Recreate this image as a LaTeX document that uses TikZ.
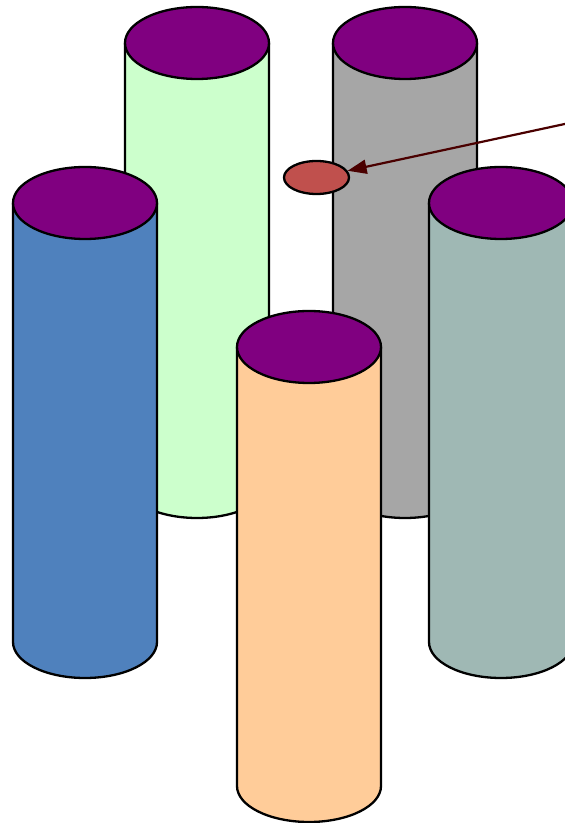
\documentclass[tikz,border=0pt]{standalone}
\usetikzlibrary{arrows.meta,shapes.geometric}
\definecolor{cpurple}{HTML}{800080}
\definecolor{cgreen}{HTML}{CCFFCC}
\definecolor{cgray}{HTML}{A6A6A6}
\definecolor{cblue}{HTML}{4F81BD}
\definecolor{cteal}{HTML}{9FB8B4}
\definecolor{corange}{HTML}{FFCC99}
\definecolor{cdot}{HTML}{C0504D}
\definecolor{carrow}{HTML}{4A0000}
\tikzset{
  outline/.style={draw=black,line width=2.3pt,line join=round},
  pics/cyl/.style={code={
    \path[outline,fill=#1] (-72pt,0pt) -- (-72pt,-439pt)
      arc[start angle=180,end angle=360,x radius=72pt,y radius=36pt]
      -- (72pt,0pt) -- cycle;
    \path[outline,fill=cpurple] (0,0) ellipse[x radius=72pt,y radius=36pt];
  }},
  dotnode/.style={ellipse,outline,fill=cdot,minimum width=65pt,minimum height=33pt,inner sep=0pt},
  pointer/.style={draw=carrow,line width=2.2pt,-{Triangle[length=19pt,width=14pt]}}
}
\begin{document}
\begin{tikzpicture}[x=1pt,y=1pt]
\useasboundingbox (0,0) rectangle (565,823);
\clip (0,0) rectangle (565,823);
\pic (green) at (197,780) {cyl=cgreen};
\pic (gray) at (405,780) {cyl=cgray};
\pic (blue) at (85,620) {cyl=cblue};
\pic (teal) at (501,620) {cyl=cteal};
\pic (orange) at (309,476) {cyl=corange};
\node[dotnode] (dot) at (316.5,645.5) {};
\coordinate (start) at (567,699.5);
\draw[pointer] (start) -- (dot);
\end{tikzpicture}
\end{document}
